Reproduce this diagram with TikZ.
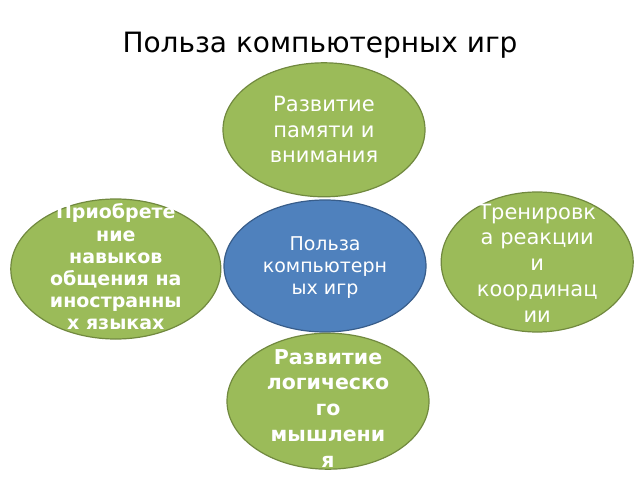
\documentclass[tikz,border=0pt]{standalone}
\usepackage{fontspec}
\setmainfont{DejaVu Sans}
\usetikzlibrary{shapes}
\usetikzlibrary{positioning}
\definecolor{leaf}{HTML}{9BBB59}
\definecolor{leafline}{HTML}{71893F}
\definecolor{sky}{HTML}{4F81BD}
\definecolor{skyline}{HTML}{385D8A}
\tikzstyle{benefit} = [ellipse,fill=leaf,draw=leafline,line width=1.2pt,inner sep=0pt]
\tikzstyle{core} = [benefit,fill=sky,draw=skyline]
\tikzstyle{caption} = [align=center,text=white,inner sep=0pt]
\tikzstyle{heading} = [font=\fontsize{28}{32}\selectfont]

\begin{document}
\begin{tikzpicture}[x=1pt,y=1pt]
  \useasboundingbox (0,0) rectangle (640,480);
  \node[heading] (title) at (320,435) {Польза компьютерных игр};

  \node[core, minimum width=202pt, minimum height=132pt] (c) at (325,214) {};
  \node[benefit, minimum width=202pt, minimum height=134pt, above=2pt of c, xshift=-1pt] (mem) {};
  \node[benefit, minimum width=202pt, minimum height=136pt, below=0pt of c, xshift=3pt] (logic) {};
  \node[benefit, minimum width=210pt, minimum height=140pt, left=2pt of c, yshift=-3pt] (lang) {};
  \node[benefit, minimum width=192pt, minimum height=140pt, right=14pt of c, yshift=4pt] (react) {};

  \node[caption, font=\fontsize{19}{22}\selectfont, yshift=-2pt] (tc) at (c) {Польза\\компьютерн\\ых игр};
  \node[caption, font=\fontsize{21}{25.5}\selectfont] (tmem) at (mem) {Развитие\\памяти и\\внимания};
  \node[caption, font=\bfseries\fontsize{20.5}{25.8}\selectfont, yshift=-7pt] (tlogic) at (logic) {Развитие\\логическо\\го\\мышлени\\я};
  \node[caption, font=\bfseries\fontsize{19}{22.2}\selectfont, yshift=2pt] (tlang) at (lang) {Приобрете\\ние\\навыков\\общения на\\иностранны\\х языках};
  \node[caption, font=\fontsize{21}{25.8}\selectfont, yshift=-1pt] (treact) at (react) {Тренировк\\а реакции\\и\\координац\\ии};
\end{tikzpicture}
\end{document}
